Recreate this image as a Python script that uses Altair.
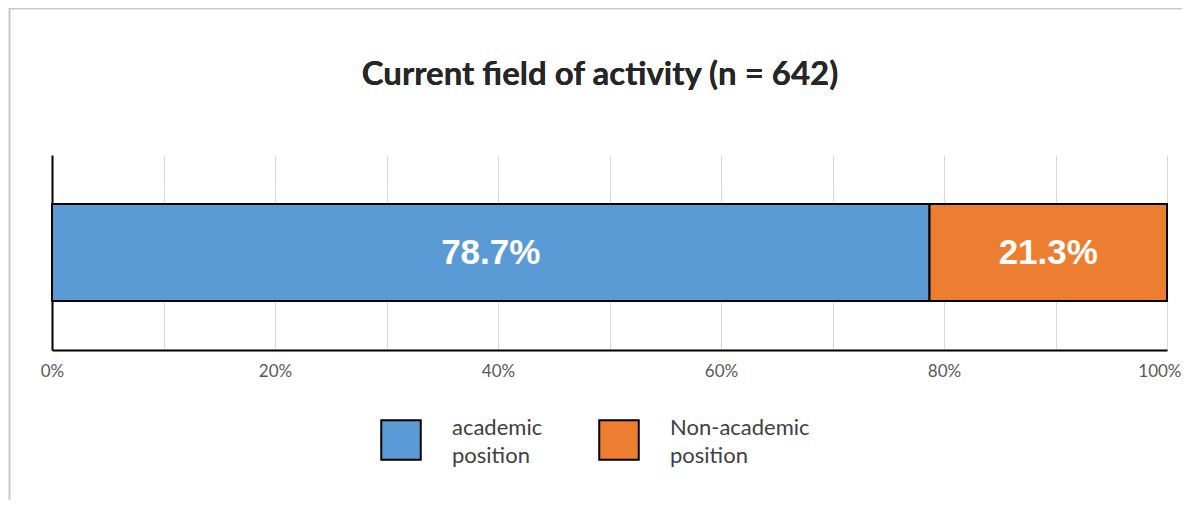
import altair as alt
import pandas as pd

title_text = "Current field of activity (n = 642)"
categories = ["academic position", "Non-academic position"]
shares = [0.787, 0.213]
bar_labels = ["78.7%", "21.3%"]
stack_order = [0, 1]
colors = ["#5B9BD5", "#ED7D31"]
tick_values = [0, 0.1, 0.2, 0.3, 0.4, 0.5, 0.6, 0.7, 0.8, 0.9, 1.0]

df = pd.DataFrame({
    "cat": categories,
    "share": shares,
    "label": bar_labels,
    "idx": stack_order,
    "row": ["all", "all"],
})

base = alt.Chart(df)

bars = base.mark_bar(stroke="black", strokeWidth=2).encode(
    x=alt.X(
        "share:Q",
        stack="zero",
        scale=alt.Scale(domain=[0, 1], nice=False),
        title=None,
        axis=alt.Axis(
            values=tick_values,
            format="%",
            labelExpr="round(datum.value*100) % 20 == 0 ? datum.label : ''",
            grid=True,
            gridColor="#d9d9d9",
            gridWidth=1,
            ticks=False,
            domainColor="black",
            domainWidth=2,
            labelColor="#595959",
            labelFontSize=17,
            labelFont="Lato",
            labelPadding=13,
            labelFlush=False,
            labelOverlap=False,
            labelAlign={"condition": {"test": "datum.value >= 1", "value": "right"}, "value": "center"},
            labelOffset={"condition": {"test": "datum.value >= 1", "value": 14}, "value": 0},
        ),
    ),
    y=alt.Y(
        "row:N",
        title=None,
        scale=alt.Scale(padding=0.336),
        axis=alt.Axis(labels=False, ticks=False, domainColor="black", domainWidth=2, grid=False),
    ),
    color=alt.Color(
        "cat:N",
        scale=alt.Scale(domain=categories, range=colors),
        legend=alt.Legend(
            title=None,
            orient="none",
            direction="horizontal",
            legendX=328,
            legendY=264,
            symbolType="square",
            symbolSize=1560,
            symbolStrokeColor="black",
            symbolStrokeWidth=2,
            symbolOpacity=1,
            labelFont="Lato",
            labelFontSize=22,
            labelColor="#404040",
            labelOffset=30,
            labelBaseline="bottom",
            labelExpr="split(datum.label, ' ')",
            labelLimit=300,
            columnPadding=52,
        ),
    ),
    order=alt.Order("idx:Q"),
)

texts = base.transform_stack(
    stack="share",
    groupby=["row"],
    as_=["x0", "x1"],
    sort=[alt.SortField("idx", order="ascending")],
).transform_calculate(
    mid="(datum.x0 + datum.x1) / 2"
).mark_text(
    color="white", fontSize=35, fontWeight="bold", font="Liberation Sans", baseline="middle"
).encode(
    x=alt.X("mid:Q"),
    y=alt.Y("row:N"),
    text="label:N",
)

title_mark = base.mark_text(
    font="Lato", fontSize=33, fontWeight="bold", color="#262626",
    align="center", baseline="alphabetic",
).encode(
    x=alt.value(548), y=alt.value(-70), text=alt.value(title_text)
)

frame_top = base.mark_rule(color="#c8c8c8", strokeWidth=1.5).encode(
    x=alt.value(-43), x2=alt.value(1140), y=alt.value(-146.5)
)
frame_left = base.mark_rule(color="#c8c8c8", strokeWidth=1.5).encode(
    x=alt.value(-42.5), y=alt.value(-147), y2=alt.value(370)
)

chart = alt.layer(bars, texts, title_mark, frame_top, frame_left).properties(
    width=1115,
    height=195,
    autosize=alt.AutoSizeParams(type="none"),
    padding={"left": 44, "top": 147, "right": 15, "bottom": 150},
).configure(
    style={"guide-label": {"lineHeight": 28}}
).configure_view(stroke=None)

chart.save("out.html", embed_options={"renderer": "svg", "actions": False})
